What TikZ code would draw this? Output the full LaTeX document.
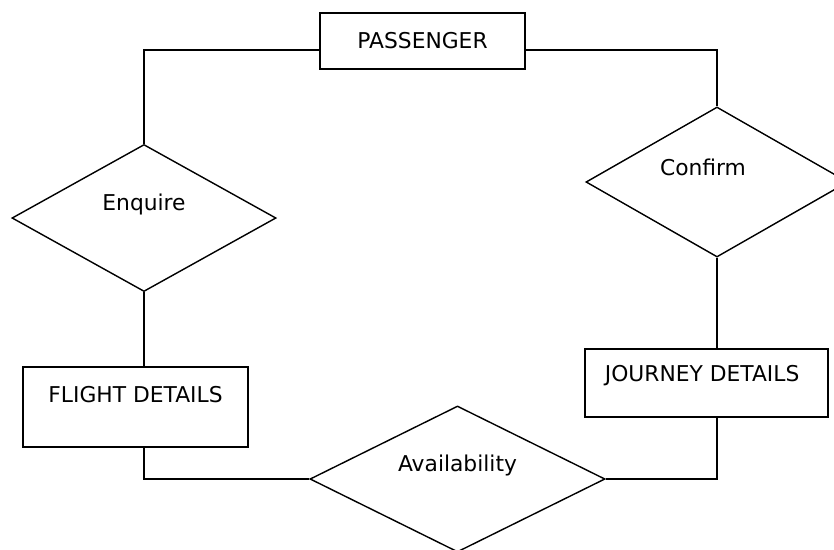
\documentclass[tikz,border=0pt]{standalone}
\usepackage{fontspec}
\setmainfont{DejaVu Sans}
\usetikzlibrary{shapes.geometric}

\tikzset{
  entity/.style={draw, rectangle, line width=1.1pt, inner sep=0pt},
  relation/.style={draw, diamond, line width=1pt, inner sep=0pt},
  link/.style={line width=1.1pt},
}

\begin{document}
\begin{tikzpicture}[x=0.025cm, y=-0.025cm, font=\fontsize{15.5}{18}\selectfont]
            \useasboundingbox (0,0) rectangle (834,549);
            \fill [white] (0,0) rectangle (834,549);
            \clip (0,0) rectangle (834,549);

            % entities
            \node [entity, minimum width=5.125cm, minimum height=1.4cm]
               (passenger) at (422.5,41) {PASSENGER};
            \node [entity, minimum width=5.625cm, minimum height=2cm,
               label={[name=flight-txt, yshift=0.31cm]center:FLIGHT DETAILS}]
               (flight) at (135.5,407) {};
            \node [entity, minimum width=6.075cm, minimum height=1.7cm,
               label={[name=journey-txt, xshift=-0.11cm, yshift=0.18cm]center:JOURNEY DETAILS}]
               (journey) at (706.5,383) {};

            % relationships
            \node [relation, minimum width=6.6cm, minimum height=3.675cm,
               label={[name=enquire-txt, yshift=0.34cm]center:Enquire}]
               (enquire) at (144,218) {};
            \node [relation, minimum width=6.55cm, minimum height=3.75cm,
               label={[name=confirm-txt, xshift=-0.35cm, yshift=0.375cm]center:Confirm}]
               (confirm) at (717,182) {};
            \node [relation, minimum width=7.375cm, minimum height=3.65cm,
               label={[name=availability-txt, yshift=0.35cm]center:Availability}]
               (availability) at (457.5,479) {};

            % connectors
            \draw [link] ([yshift=-0.225cm]passenger.west) -| (enquire.north);
            \draw [link] ([yshift=-0.225cm]passenger.east) -| (confirm.north);
            \draw [link] (enquire.south) -- (enquire.south |- flight.north);
            \draw [link] (confirm.south) -- (confirm.south |- journey.north);
            \draw [link] (enquire.south |- flight.south) |- (availability.west);
            \draw [link] (confirm.south |- journey.south) |- (availability.east);
         \end{tikzpicture}
\end{document}
